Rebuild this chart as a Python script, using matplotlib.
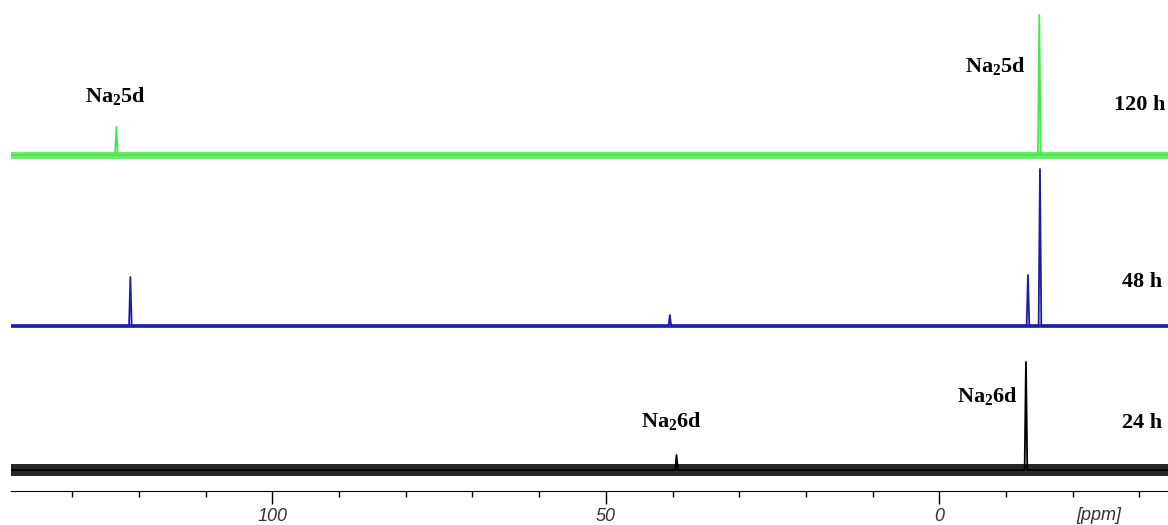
import numpy as np
import matplotlib.pyplot as plt
from matplotlib.ticker import MultipleLocator

# spectra as (ppm, intensity) points; intensity in arbitrary units above baseline
ppm_120h = [140, 123.6, 123.4, 123.2, -14.8, -15.0, -15.2, -35]
int_120h = [0, 0, 28, 0, 0, 140, 0, 0]

ppm_48h = [140, 121.5, 121.3, 121.1, 40.6, 40.4, 40.2, -13.1, -13.3, -13.5, -14.9, -15.1, -15.3, -35]
int_48h = [0, 0, 49, 0, 0, 11, 0, 0, 51, 0, 0, 157, 0, 0]

ppm_24h = [140, 39.6, 39.4, 39.2, -12.8, -13.0, -13.2, -35]
int_24h = [0, 0, 15, 0, 0, 108, 0, 0]

# baseline offsets and noise band half-width
offsets = [336, 165, 21]
noise = [3.5, 1.8, 6]
band_alpha = [0.8, 0.85, 0.85]
colors = ['#45e845', '#1c1ca6', '#000000']
hours = ['120 h', '48 h', '24 h']
hour_x = [-30.0, -30.4, -30.4]
hour_y = [386, 209, 68]

# peak annotations
ann_text = ['Na$_2$5d', 'Na$_2$5d', 'Na$_2$6d', 'Na$_2$6d']
ann_ppm = [123.5, -8.5, -7.2, 40.2]
ann_y = [394, 424, 94, 69]

plt.rcParams['mathtext.fontset'] = 'custom'
plt.rcParams['mathtext.rm'] = 'Liberation Serif:bold'
plt.rcParams['mathtext.bf'] = 'Liberation Serif:bold'

fig = plt.figure(figsize=(11.68, 5.25), dpi=100)
ax = fig.add_axes([11 / 1168, 34 / 525, 1157 / 1168, 491 / 525])

spectra = [(ppm_120h, int_120h), (ppm_48h, int_48h), (ppm_24h, int_24h)]
for (p, inten), off, nz, a, c in zip(spectra, offsets, noise, band_alpha, colors):
    p = np.array(p)
    inten = np.array(inten)
    ax.fill_between([140, -35], off - nz, off + nz, color=c, lw=0, alpha=a)
    ax.plot(p, off + inten, color=c, lw=1.3)

for h, x, y in zip(hours, hour_x, hour_y):
    ax.text(x, y, h, family='Liberation Serif', weight='bold', fontsize=16,
            ha='center', va='center')

for t, xp, yp in zip(ann_text, ann_ppm, ann_y):
    ax.text(xp, yp, t, family='Liberation Serif', weight='bold', fontsize=16,
            ha='center', va='center')

ax.set_xlim(139.2, -34.3)
ax.set_ylim(0, 491)
ax.xaxis.set_major_locator(MultipleLocator(50))
ax.xaxis.set_minor_locator(MultipleLocator(10))
ax.tick_params(axis='x', which='major', length=9, width=1, labelsize=13, labelcolor='#333333', pad=3)
ax.tick_params(axis='x', which='minor', length=4.5, width=1)
ax.tick_params(axis='y', left=False, labelleft=False)
for lab in ax.get_xticklabels():
    lab.set_fontstyle('italic')
    lab.set_family('Liberation Sans')
for s in ['top', 'left', 'right']:
    ax.spines[s].set_visible(False)
ax.text(-24, -25, '[ppm]', fontsize=13, style='italic', family='Liberation Sans',
        color='#333333', ha='center', va='center')

fig.savefig('out.png', dpi=100)
